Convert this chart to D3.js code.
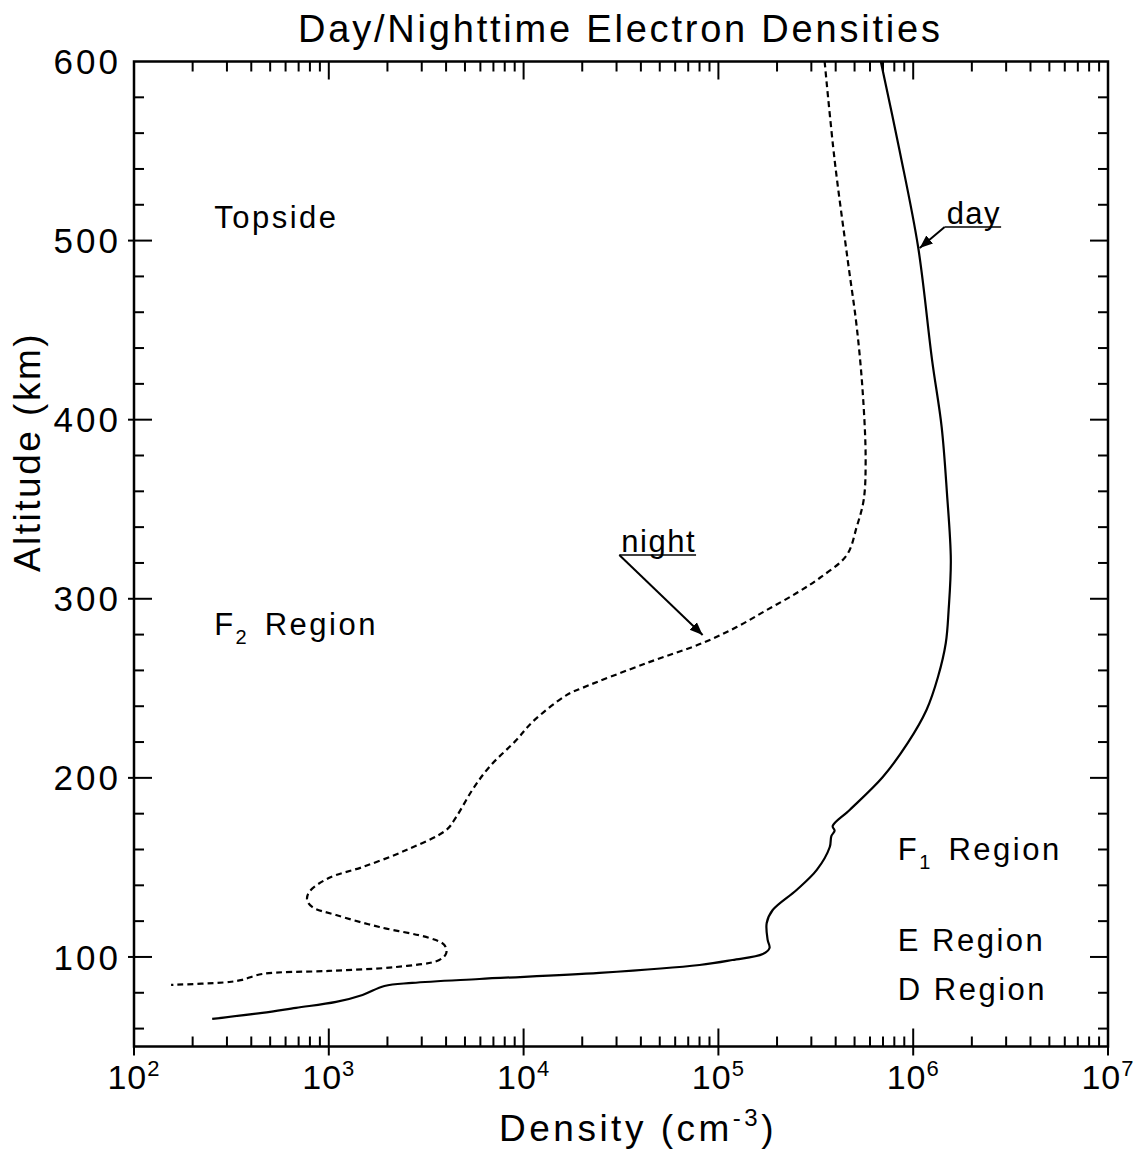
<!DOCTYPE html>
<html>
<head>
<meta charset="utf-8">
<script src="https://cdn.jsdelivr.net/npm/d3@7/dist/d3.min.js"></script>
<style>
  html, body { margin: 0; padding: 0; background: #fff; }
  svg text { font-family: "Liberation Sans", Arial, Helvetica, sans-serif; fill: #000; }
</style>
</head>
<body>
<svg id="chart" width="1148" height="1151"></svg>
<script>
// Daytime electron density profile: [density cm^-3, altitude km]
const dayProfile = [
  [6.82e5, 600], [8.5e5, 550.6], [1.06e6, 496.4], [1.25e6, 433.3], [1.40e6, 395.9],
  [1.49e6, 359.1], [1.56e6, 321.7], [1.52e6, 293.7], [1.47e6, 275.3], [1.34e6, 256.3],
  [1.17e6, 237.9], [9.38e5, 219.5], [6.98e5, 200.5], [4.72e5, 182.1], [3.86e5, 173.1],
  [3.95e5, 170.5], [3.80e5, 167.5], [3.73e5, 161.4], [3.20e5, 148.6], [2.52e5, 137.4],
  [1.90e5, 126.2], [1.77e5, 119.0], [1.79e5, 109.5], [1.83e5, 105.0], [1.69e5, 101.6],
  [1.18e5, 98.3], [8.0e4, 95.5], [2.45e4, 91.1], [5.93e3, 87.7], [2.68e3, 85.5],
  [1.93e3, 83.8], [1.49e3, 78.8], [1.09e3, 74.9], [679, 71.6], [455, 68.8], [252, 65.4]
];

// Nighttime electron density profile: [density cm^-3, altitude km]
const nightProfile = [
  [3.51e5, 600], [3.95e5, 545], [4.61e5, 489.2], [5.13e5, 451.8], [5.51e5, 414.9],
  [5.70e5, 377.5], [5.57e5, 355.2], [5.13e5, 340.2], [4.56e5, 324.4], [3.31e5, 311.6],
  [2.52e5, 303.2], [1.77e5, 293.7], [1.24e5, 284.2], [8.3e4, 275.3], [4.28e4, 264.1],
  [2.0e4, 250.2], [1.66e4, 246.2], [1.11e4, 231.2], [9.18e3, 221.1], [6.67e3, 206.1],
  [5.46e3, 193.3], [4.51e3, 178.2], [4.01e3, 170.9], [2.50e3, 159.7], [1.49e3, 150.2],
  [1.00e3, 144.1], [793, 136.3], [774, 131.8], [822, 127.9], [1.09e3, 123.4],
  [1.82e3, 116.7], [3.28e3, 110.6], [3.92e3, 106.7], [4.01e3, 102.2], [3.69e3, 98.3],
  [2.22e3, 94.4], [1.00e3, 92.2], [455, 90.5], [359, 87.2], [308, 86.0], [155, 84.4]
];

// Axis ranges and labelled ticks
const densityDomain = [1e2, 1e7];
const altitudeDomain = [50, 600];
const densityExponents = [2, 3, 4, 5, 6, 7];
const altitudeLabels = [100, 200, 300, 400, 500, 600];

// Region names: [text, subscript, density, altitude]
const regionLabels = [
  ["Topside", "", 258, 507],
  ["F", "2", 258, 279.5],
  ["F", "1", 8.34e5, 154],
  ["E Region", "", 8.34e5, 103.6],
  ["D Region", "", 8.34e5, 75.7]
];

// Curve call-outs: [text, label density, label altitude, arrow tip density, arrow tip altitude]
const callouts = [
  ["day", 1.45e6, 507.6, 1.08e6, 495.9],
  ["night", 3.1e4, 324.4, 8.3e4, 279.8]
];

(function draw() {
  const svg = d3.select("#chart");
  const plotLeft = 134, plotRight = 1108, plotTop = 61.5, plotBottom = 1046.5;

  const x = d3.scaleLog().domain(densityDomain).range([plotLeft, plotRight]);
  const y = d3.scaleLinear().domain(altitudeDomain).range([plotBottom, plotTop]);

  const defs = svg.append("defs");
  defs.append("marker")
    .attr("id", "arrowhead")
    .attr("viewBox", "0 0 10 10")
    .attr("refX", 10).attr("refY", 5)
    .attr("markerWidth", 6.5).attr("markerHeight", 6.5)
    .attr("markerUnits", "strokeWidth")
    .attr("orient", "auto")
    .append("path").attr("d", "M0,1 L10,5 L0,9 Z").attr("fill", "#000");

  // Tick values
  const minorX = [];
  for (let e = 2; e < 7; e++) for (let m = 2; m <= 9; m++) minorX.push(m * Math.pow(10, e));
  const majorX = densityExponents.map(e => Math.pow(10, e));
  const minorY = d3.range(60, 600, 20).filter(v => v % 100 !== 0);
  const majorY = d3.range(100, 600, 100);

  const axisG = svg.append("g").attr("stroke", "#000");

  // Minor ticks (inward) on all four sides
  minorX.forEach(v => {
    axisG.append("line").attr("x1", x(v)).attr("x2", x(v)).attr("y1", plotBottom).attr("y2", plotBottom - 10).attr("stroke-width", 2);
    axisG.append("line").attr("x1", x(v)).attr("x2", x(v)).attr("y1", plotTop).attr("y2", plotTop + 10).attr("stroke-width", 2);
  });
  majorX.forEach(v => {
    axisG.append("line").attr("x1", x(v)).attr("x2", x(v)).attr("y1", plotBottom + 9).attr("y2", plotBottom - 18).attr("stroke-width", 2);
    axisG.append("line").attr("x1", x(v)).attr("x2", x(v)).attr("y1", plotTop).attr("y2", plotTop + 18).attr("stroke-width", 2);
  });
  minorY.forEach(v => {
    axisG.append("line").attr("x1", plotLeft).attr("x2", plotLeft + 10).attr("y1", y(v)).attr("y2", y(v)).attr("stroke-width", 2);
    axisG.append("line").attr("x1", plotRight).attr("x2", plotRight - 10).attr("y1", y(v)).attr("y2", y(v)).attr("stroke-width", 2);
  });
  majorY.forEach(v => {
    axisG.append("line").attr("x1", plotLeft - 6).attr("x2", plotLeft + 18).attr("y1", y(v)).attr("y2", y(v)).attr("stroke-width", 2);
    axisG.append("line").attr("x1", plotRight).attr("x2", plotRight - 18).attr("y1", y(v)).attr("y2", y(v)).attr("stroke-width", 2);
  });

  // Frame
  axisG.append("rect")
    .attr("x", plotLeft).attr("y", plotTop)
    .attr("width", plotRight - plotLeft).attr("height", plotBottom - plotTop)
    .attr("fill", "none").attr("stroke-width", 2.5);

  // Altitude labels
  svg.append("g").selectAll("text").data(altitudeLabels).join("text")
    .attr("x", plotLeft - 13).attr("y", d => y(d))
    .attr("dy", "0.36em")
    .attr("text-anchor", "end")
    .attr("font-size", 35)
    .attr("letter-spacing", 3)
    .text(d => d);

  // Density labels as powers of ten
  const xl = svg.append("g").selectAll("text").data(densityExponents).join("text")
    .attr("x", d => x(Math.pow(10, d)))
    .attr("y", 1089)
    .attr("text-anchor", "middle")
    .attr("font-size", 34)
    .attr("letter-spacing", 1);
  xl.append("tspan").text("10");
  xl.append("tspan").attr("dy", -13).attr("font-size", 22).text(d => d);

  // Axis titles
  const xt = svg.append("text")
    .attr("x", 638).attr("y", 1141)
    .attr("text-anchor", "middle")
    .attr("font-size", 37)
    .attr("letter-spacing", 3.5);
  xt.append("tspan").text("Density (cm");
  xt.append("tspan").attr("dy", -15).attr("font-size", 24).text("-3");
  xt.append("tspan").attr("dy", 15).text(")");

  svg.append("text")
    .attr("transform", "translate(40,452) rotate(-90)")
    .attr("text-anchor", "middle")
    .attr("font-size", 37)
    .attr("letter-spacing", 2.5)
    .text("Altitude (km)");

  svg.append("text")
    .attr("x", 619).attr("y", 42)
    .attr("text-anchor", "middle")
    .attr("font-size", 38)
    .attr("textLength", 642)
    .attr("lengthAdjust", "spacing")
    .text("Day/Nighttime Electron Densities");

  // Profiles
  const line = d3.line()
    .x(d => x(d[0]))
    .y(d => y(d[1]))
    .curve(d3.curveCatmullRom.alpha(0.5));

  svg.append("path").datum(nightProfile)
    .attr("d", line)
    .attr("fill", "none").attr("stroke", "#000")
    .attr("stroke-width", 2.2)
    .attr("stroke-dasharray", "6,4");

  svg.append("path").datum(dayProfile)
    .attr("d", line)
    .attr("fill", "none").attr("stroke", "#000")
    .attr("stroke-width", 2.2);

  // Region names
  regionLabels.forEach(([t, sub, d, a]) => {
    const txt = svg.append("text").attr("x", x(d)).attr("y", y(a))
      .attr("font-size", 31).attr("letter-spacing", 2.5);
    txt.append("tspan").text(t);
    if (sub) {
      txt.append("tspan").attr("dy", 9).attr("font-size", 20).attr("letter-spacing", 0).text(sub);
      txt.append("tspan").attr("dy", -9).text("\u2002Region");
    }
  });

  // Call-outs with underline and arrow
  callouts.forEach(([t, d0, a0, d1, a1]) => {
    const tx = svg.append("text")
      .attr("x", x(d0) + 2).attr("y", y(a0) - 3)
      .attr("font-size", 31).attr("letter-spacing", 1.5).text(t);
    const w = tx.node().getComputedTextLength();
    svg.append("line")
      .attr("x1", x(d0)).attr("x2", x(d0) + w + 2)
      .attr("y1", y(a0)).attr("y2", y(a0))
      .attr("stroke", "#000").attr("stroke-width", 1.5);
    svg.append("line")
      .attr("x1", x(d0)).attr("y1", y(a0))
      .attr("x2", x(d1)).attr("y2", y(a1))
      .attr("stroke", "#000").attr("stroke-width", 2)
      .attr("marker-end", "url(#arrowhead)");
  });
})();
</script>
</body>
</html>
